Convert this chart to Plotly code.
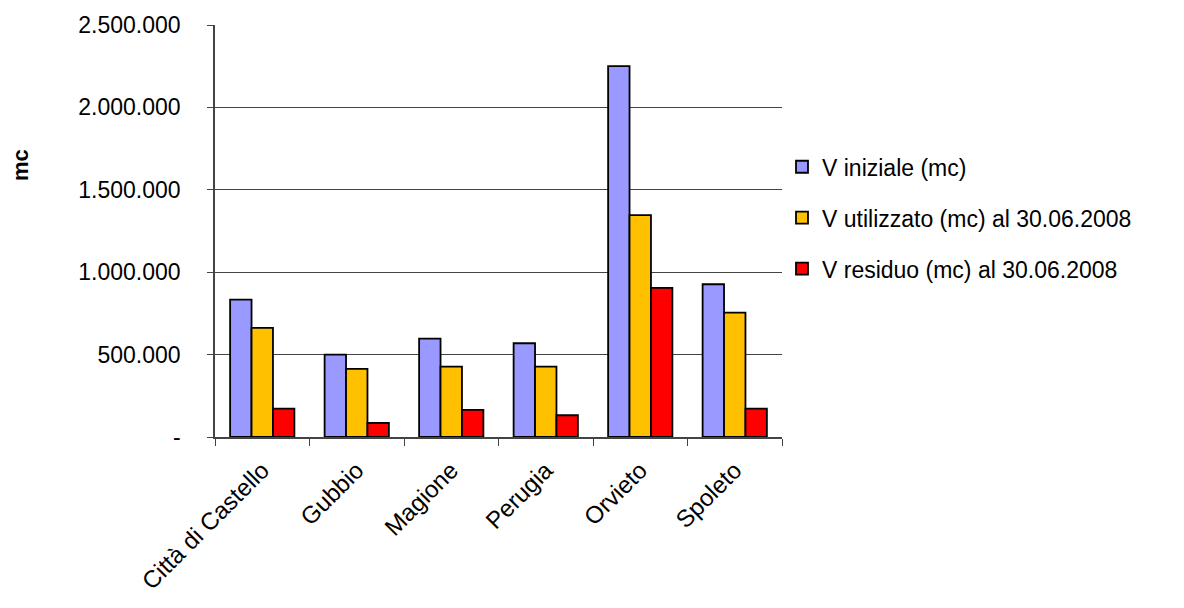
import plotly.graph_objects as go

categories = ["Città di Castello", "Gubbio", "Magione", "Perugia", "Orvieto", "Spoleto"]
v_iniziale = [834000, 500000, 597000, 569000, 2251000, 927000]
v_utilizzato = [662000, 413000, 427000, 427000, 1346000, 755000]
v_residuo = [172000, 85000, 164000, 132000, 905000, 172000]

series_names = ["V iniziale (mc)", "V utilizzato (mc) al 30.06.2008", "V residuo (mc) al 30.06.2008"]
series_colors = ["#9999FF", "#FFC000", "#FF0000"]

tick_vals = [0, 500000, 1000000, 1500000, 2000000, 2500000]
tick_text = ["-", "500.000", "1.000.000", "1.500.000", "2.000.000", "2.500.000"]

FONT = "Liberation Sans, Arial, sans-serif"
FS = 23

fig = go.Figure()
for name, vals, col in zip(series_names, [v_iniziale, v_utilizzato, v_residuo], series_colors):
    fig.add_trace(go.Bar(
        x=categories, y=vals, name=name, legendgroup=name,
        marker=dict(color=col, line=dict(color="black", width=1.8)),
    ))

fig.update_layout(
    width=1184, height=608,
    paper_bgcolor="white", plot_bgcolor="white",
    margin=dict(l=215, r=402, t=25, b=171),
    barmode="group", bargap=0.32, bargroupgap=0,
    font=dict(family=FONT, size=FS, color="black"),
    showlegend=True,
    legend=dict(x=1.0, xanchor="left", y=0.708, yanchor="top",
                font=dict(family=FONT, size=FS, color="black"),
                tracegroupgap=18, itemwidth=30, bgcolor="rgba(0,0,0,0)"),
    annotations=[dict(text="<b>mc</b>", x=-0.344, y=0.66, xref="paper", yref="paper",
                      xanchor="center", yanchor="middle", showarrow=False, textangle=-90,
                      font=dict(family=FONT, size=22, color="black"))],
)

fig.update_yaxes(
    range=[0, 2500000], tickvals=tick_vals, ticktext=tick_text,
    showgrid=True, gridcolor="#444444", gridwidth=1.3,
    showline=True, linecolor="#444444", linewidth=1.5,
    ticks="outside", ticklen=6, tickcolor="#444444", tickwidth=1.3,
    ticklabelstandoff=22, zeroline=False,
    tickfont=dict(family=FONT, size=FS, color="black"),
)
fig.update_xaxes(
    showline=True, linecolor="#444444", linewidth=1.5,
    ticks="outside", ticklen=7, tickcolor="#444444", tickwidth=1.3,
    tickson="boundaries", tickangle=-45, showgrid=False,
    ticklabelstandoff=8,
    tickfont=dict(family=FONT, size=24, color="black"),
)

fig.write_html("out.html")
